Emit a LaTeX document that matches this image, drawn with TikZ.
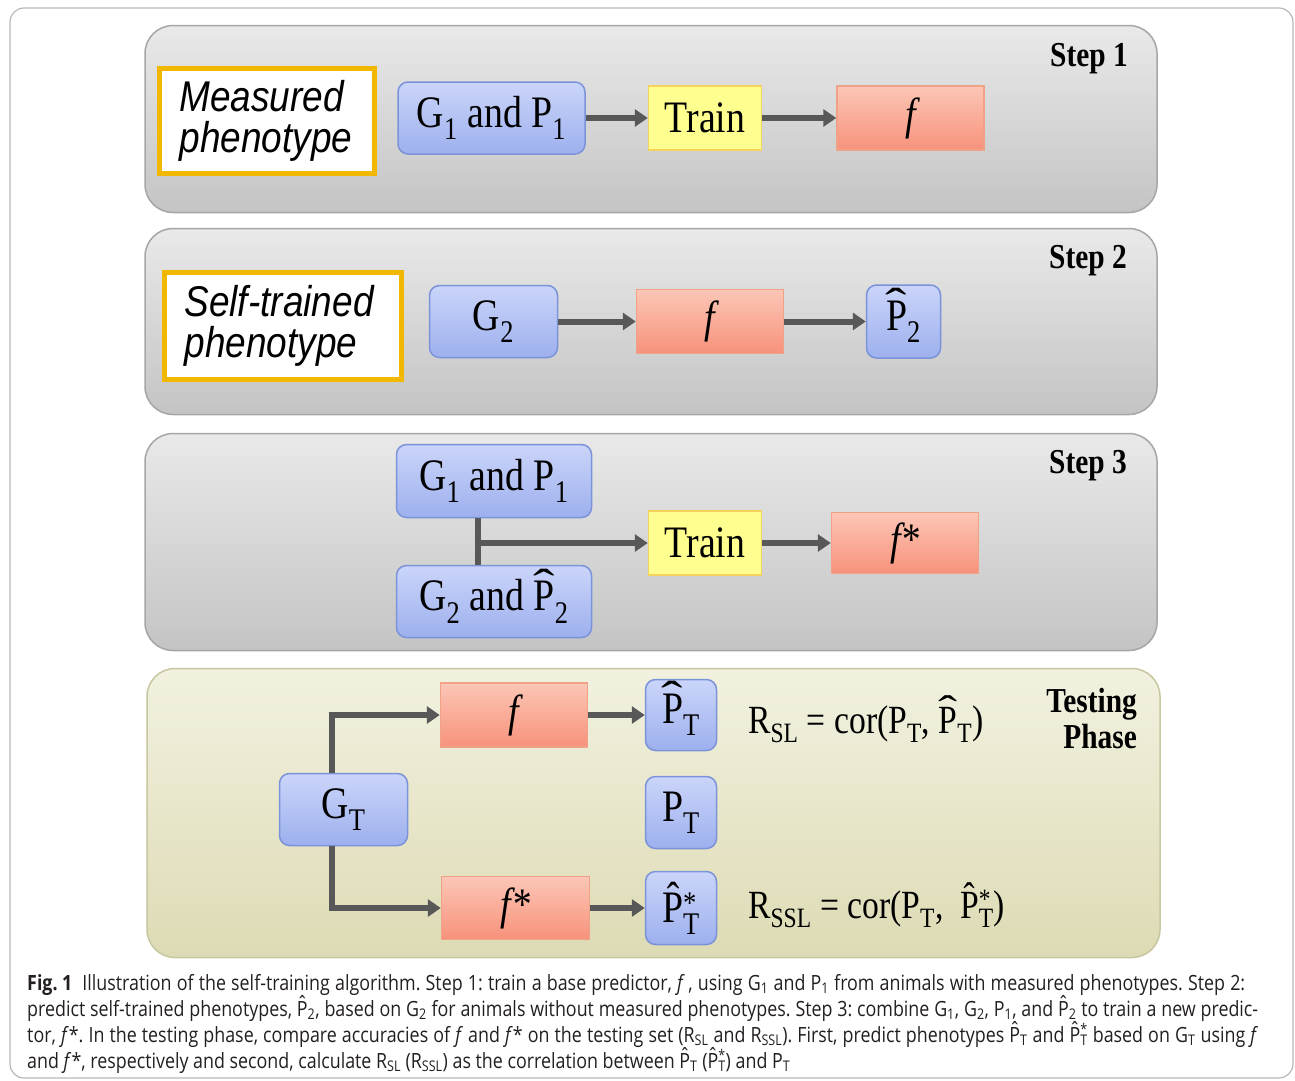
\documentclass[tikz,border=0pt]{standalone}
\usepackage{fontspec}
\usepackage{graphicx}
\setmainfont{Open Sans}[FakeStretch=0.85]
\newfontfamily\tnr[FakeStretch=0.84]{Liberation Serif}
\newfontfamily\arl[FakeStretch=0.86]{Liberation Sans}
\usetikzlibrary{arrows.meta,positioning}
\definecolor{panelTop}{HTML}{E9E9E9}
\definecolor{panelBot}{HTML}{C4C4C4}
\definecolor{panelline}{HTML}{A6A6A6}
\definecolor{testTop}{HTML}{F2F1E0}
\definecolor{testBot}{HTML}{DDDBB4}
\definecolor{testline}{HTML}{C8C6A0}
\definecolor{gTop}{HTML}{CBD5FA}
\definecolor{gBot}{HTML}{9DB0EE}
\definecolor{gline}{HTML}{7B93D8}
\definecolor{tfill}{HTML}{FFFF8F}
\definecolor{tline}{HTML}{F3D25E}
\definecolor{fTop}{HTML}{FCC6B6}
\definecolor{fBot}{HTML}{F7927B}
\definecolor{fline}{HTML}{F0A287}
\definecolor{labelgold}{HTML}{F2B700}
\definecolor{arrowgray}{HTML}{585858}
\definecolor{framegray}{HTML}{B8B8B8}
\definecolor{captext}{HTML}{231F20}
\newcommand\supsub[2]{\rlap{\textsuperscript{#1}}\textsubscript{#2}}
\newcommand\wideP{\ooalign{P\cr\hidewidth\raisebox{0.24em}{\scalebox{1.7}[1]{\char"02C6}}\hidewidth\cr}}
\newcommand\capP{\ooalign{P\cr\hidewidth\raisebox{0.2em}{\char"02C6}\hidewidth\cr}}
\frenchspacing

\begin{document}
\begin{tikzpicture}[x=1pt,y=-1pt,
  outerbox/.style={draw=framegray, line width=1.2pt, rounded corners=14pt, minimum width=1283pt,
                minimum height=1070pt, inner sep=0pt},
  panel/.style={draw=panelline, line width=1.5pt, rounded corners=28pt, top color=panelTop,
                bottom color=panelBot, minimum width=1012pt, inner sep=0pt},
  steplbl/.style={anchor=base east, inner sep=0pt, font=\tnr\bfseries\fontsize{35}{36}\selectfont},
  lbox/.style={draw=labelgold, line width=5pt, fill=white, inner xsep=20pt, inner ysep=0pt,
               align=left, font=\arl\itshape\fontsize{43}{41}\selectfont},
  gbox/.style={draw=gline, line width=1.5pt, rounded corners=10pt, top color=gTop, bottom color=gBot,
               inner sep=0pt, font=\tnr\fontsize{45}{50}\selectfont},
  tbox/.style={draw=tline, line width=1.5pt, fill=tfill, inner sep=0pt, minimum width=113pt,
               minimum height=64pt, font=\tnr\fontsize{45}{50}\selectfont},
  fbox/.style={draw=fline, line width=1.5pt, top color=fTop, bottom color=fBot, inner sep=0pt,
               minimum width=147pt, minimum height=64pt, font=\tnr\itshape\fontsize{45}{50}\selectfont},
  eq/.style={anchor=base west, inner sep=0pt, font=\tnr\fontsize{40}{46}\selectfont},
  capline/.style={anchor=base west, inner sep=0pt, text=captext, font=\fontsize{21}{26}\selectfont},
  flow/.style={draw=arrowgray, line width=6pt, -{Triangle[length=13pt,width=17pt]}},
  link/.style={draw=arrowgray, line width=6pt}]
\useasboundingbox (0,0) rectangle (1295,1080);
\node[outerbox] (frame) at (651.5,543) {};
\node[panel, minimum height=187pt] (step1) at (651,119) {};
\node[panel, minimum height=186pt] (step2) at (651,321.5) {};
\node[panel, minimum height=217pt] (step3) at (651,542) {};
\node[panel, draw=testline, top color=testTop, bottom color=testBot, minimum width=1013pt,
      minimum height=289pt] (test) at (653.5,813) {};
\node[steplbl] (s1) at (1128,66) {Step 1};
\node[steplbl] (s2) at (1127,268) {Step 2};
\node[steplbl] (s3) at (1127,473) {Step 3};
\node[steplbl, anchor=north east, align=right] (phase) at (1137,688) {Testing\\Phase};

\node[lbox, text width=175pt, minimum width=215pt, minimum height=105pt] (measured) at (267,121) {Measured\\phenotype};
\node[gbox, minimum width=187pt, minimum height=72pt] (g1p1a) at (491.5,118) {G\textsubscript{1} and P\textsubscript{1}};
\node[tbox] (train1) at (705,118) {Train};
\node[fbox] (f1) at (910.5,118) {f};
\draw[flow] (g1p1a.east) -- (train1.west);
\draw[flow] (train1.east) -- (f1.west);

\node[lbox, text width=197pt, minimum width=237pt, minimum height=107pt] (selftr) at (283,326) {Self-trained\\phenotype};
\node[gbox, minimum width=128pt, minimum height=72pt] (g2) at (493.5,321.5) {G\textsubscript{2}};
\node[fbox] (f2) at (710,321.5) {f};
\node[gbox, minimum width=74pt, minimum height=73pt] (ph2) at (903.5,321.5) {\wideP\textsubscript{2}};
\draw[flow] (g2.east) -- (f2.west);
\draw[flow] (f2.east) -- (ph2.west);

\node[gbox, minimum width=195pt, minimum height=73pt] (g1p1b) at (494,481) {G\textsubscript{1} and P\textsubscript{1}};
\node[gbox, minimum width=195pt, minimum height=72pt] (g2p2) at (494,601.5) {G\textsubscript{2} and \wideP\textsubscript{2}};
\node[tbox] (train3) at (705,543) {Train};
\node[fbox, minimum height=61pt] (fs3) at (905,543) {f*};
\coordinate (join) at ([xshift=-16pt]g1p1b.south |- train3.west);
\draw[link] ([xshift=-16pt]g1p1b.south) -- ([xshift=-16pt]g2p2.north);
\draw[flow] (join) -- (train3.west);
\draw[flow] (train3.east) -- (fs3.west);

\node[gbox, minimum width=128pt, minimum height=72pt] (gt) at (343.5,809.5) {G\textsubscript{T}};
\node[fbox] (f4) at (514,715) {f};
\node[gbox, minimum width=71pt, minimum height=71pt] (pht) at (681,715) {\wideP\textsubscript{T}};
\node[gbox, minimum width=71pt, minimum height=72pt] (pt) at (681,812.5) {P\textsubscript{T}};
\node[fbox, minimum width=148pt, minimum height=63pt] (fs4) at (515.5,908) {f*};
\node[gbox, minimum width=71pt, minimum height=73pt] (phs) at (681,908) {\^{P}\supsub{*}{T}};
\draw[flow] ([xshift=-11.5pt]gt.north) |- (f4.west);
\draw[flow] ([xshift=-11.5pt]gt.south) |- (fs4.west);
\draw[flow] (f4.east) -- (pht.west);
\draw[flow] (fs4.east) -- (phs.west);
\node[eq] (rsl) at (748,733) {R\textsubscript{SL} = cor(P\textsubscript{T}, \wideP\textsubscript{T})};
\node[eq] (rssl) at (748,918) {R\textsubscript{SSL} = cor(P\textsubscript{T},\ \ \^{P}\supsub{*}{T})};

\node[capline] (cap1) at (27,990) {\makebox[1218pt][s]{\hbox{\textbf{Fig.\ 1}}\hspace{10pt}Illustration of the self-training algorithm. Step 1: train a base predictor, \textit{f}\,, using G\textsubscript{1} and P\textsubscript{1} from animals with measured phenotypes. Step 2:}};
\node[capline] (cap2) at (27,1016) {\makebox[1231pt][s]{predict self-trained phenotypes, \capP\textsubscript{2}, based on G\textsubscript{2} for animals without measured phenotypes. Step 3: combine G\textsubscript{1}, G\textsubscript{2}, P\textsubscript{1}, and \capP\textsubscript{2} to train a new predic-}};
\node[capline] (cap3) at (27,1042) {\makebox[1231pt][s]{tor, \textit{f}*. In the testing phase, compare accuracies of \textit{f} and \textit{f}* on the testing set (R\textsubscript{SL} and R\textsubscript{SSL}). First, predict phenotypes \capP\textsubscript{T} and \capP\supsub{*}{T} based on G\textsubscript{T} using \textit{f}}};
\node[capline] (cap4) at (27,1068) {and \textit{f}*, respectively and second, calculate R\textsubscript{SL} (R\textsubscript{SSL}) as the correlation between \capP\textsubscript{T} (\capP\supsub{*}{T}) and P\textsubscript{T}};
\end{tikzpicture}
\end{document}
